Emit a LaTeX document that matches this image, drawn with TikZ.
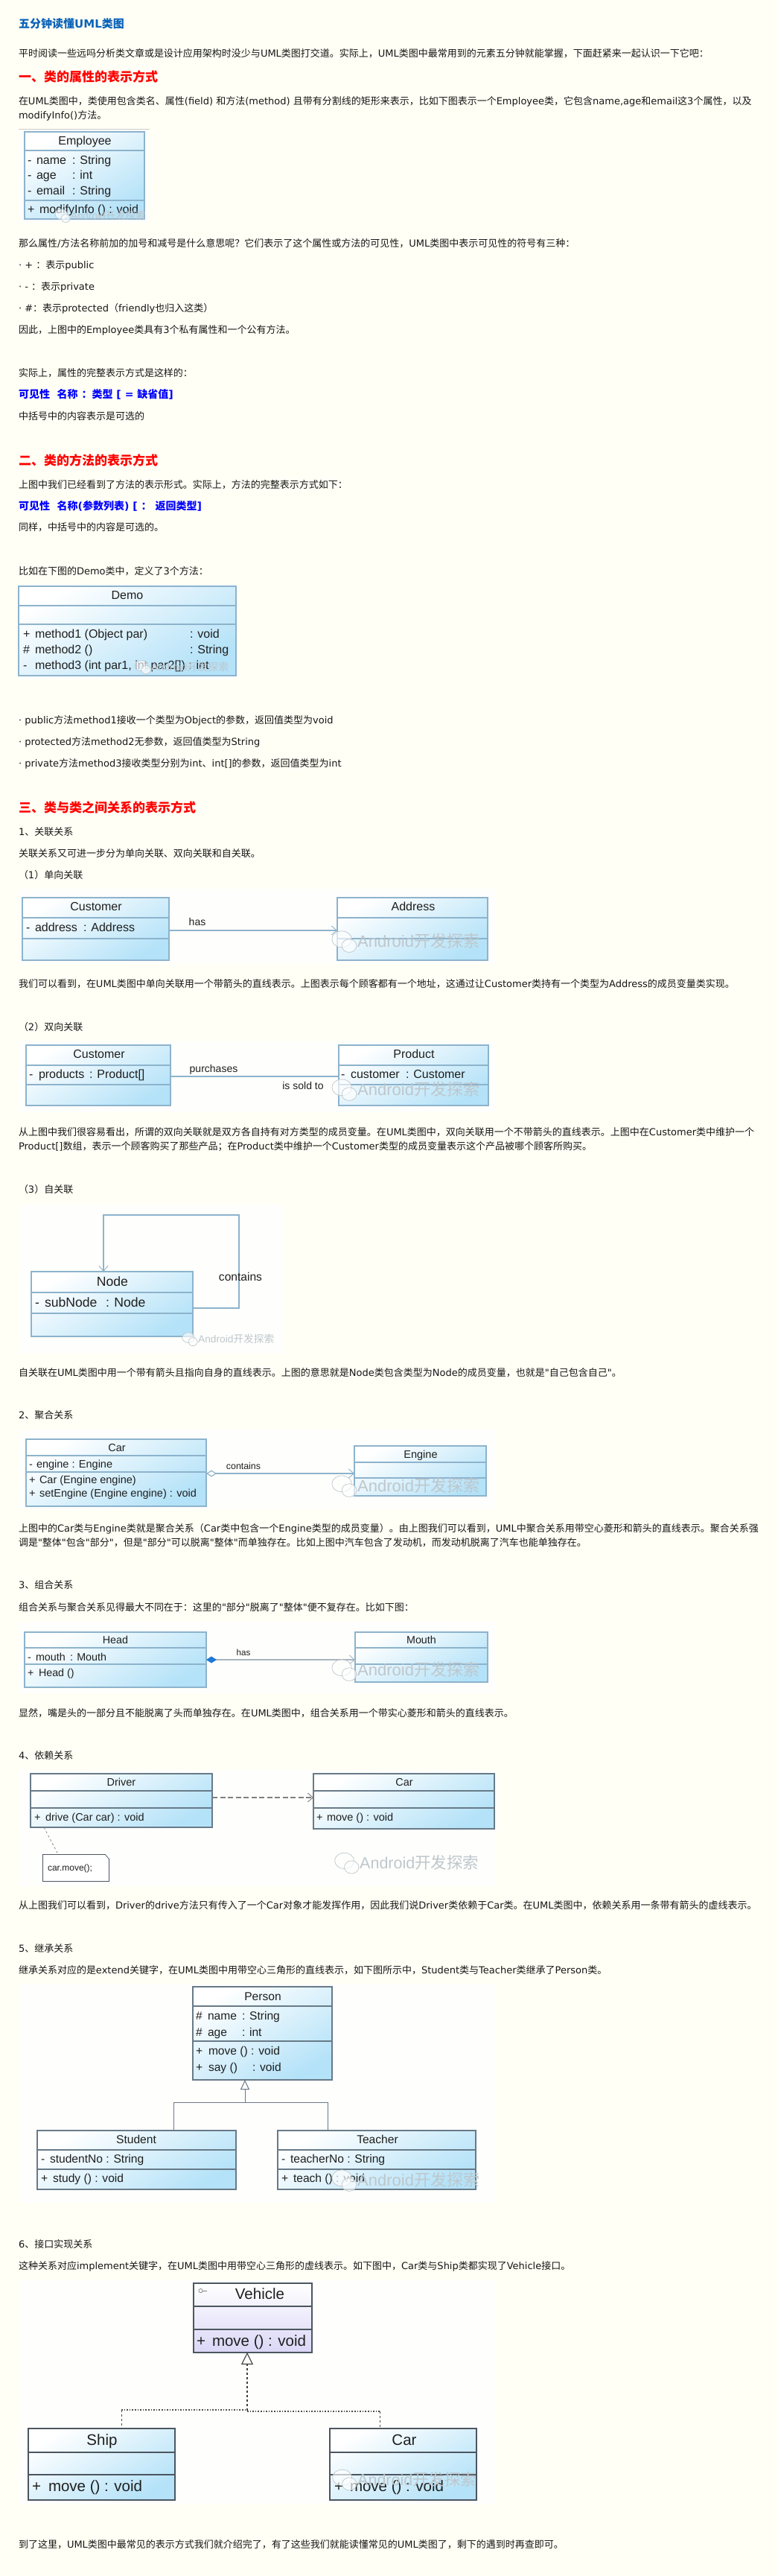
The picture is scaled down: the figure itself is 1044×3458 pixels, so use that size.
\documentclass[tikz,border=0pt]{standalone}
\usepackage{fontspec}
\setmainfont{Noto Sans CJK SC}
\newfontfamily\latf{DejaVu Sans}
\newfontfamily\umlf{Liberation Sans}
\usetikzlibrary{arrows.meta}
\definecolor{pagebg}{HTML}{FFFFF5}
\definecolor{imgbg}{HTML}{FEFEFC}
\definecolor{bodyc}{HTML}{161616}
\definecolor{titlec}{HTML}{0A62B8}
\definecolor{skyb}{HTML}{B4E2F8}
\definecolor{bline}{HTML}{8DB3CC}
\definecolor{gline}{HTML}{687A88}
\definecolor{dline}{HTML}{4C5660}
\definecolor{wmc}{HTML}{BEC7CC}
\definecolor{violetb}{HTML}{DAD6F6}
\definecolor{diamc}{HTML}{1E78D8}
\definecolor{hline}{HTML}{A9B4C0}
\newcommand\lat[1]{{\latf #1}}
\newcount\tcnt
\newcommand\fs[1]{\fontsize{#1}{#1}\selectfont}
% body lines
\newcommand\BLx[3]{\global\advance\tcnt by 1 \node[bodytxt] (t\the\tcnt) at (#1,#2) {#3};}
\newcommand\BL[2]{\BLx{25}{#1}{#2}}
\newcommand\HD[2]{\global\advance\tcnt by 1 \node[headtxt] (t\the\tcnt) at (25,#1) {#2};}
\newcommand\BU[2]{\global\advance\tcnt by 1 \node[bluetxt] (t\the\tcnt) at (25,#1) {#2};}
% class text
\def\csz{16}
\newcommand\Tx[3]{\global\advance\tcnt by 1 \node[umltxt,anchor=base west,yshift={-0.36*\csz*1pt},font=\umlf\fs{\csz}] (t\the\tcnt) at (#1,#2) {#3};}
\newcommand\Tc[3]{\global\advance\tcnt by 1 \node[umltxt,anchor=base,yshift={-0.36*\csz*1pt},font=\umlf\fs{\csz}] (t\the\tcnt) at (#1,#2) {#3};}
% class box
\newcommand\cbox[7][bluebox]{%
 \node[#1,minimum width={(#5-#3)*1pt},minimum height={(#6-#4)*1pt}] (#2) at ({(#3+#5)/2},{(#4+#6)/2}) {};
 \coordinate (#2s1) at (#3,#7);}
\newcommand\csep[3][bline]{\draw[draw=#1,line width=1.2pt] (#2.west |- 0,#3) -- (#2.east |- 0,#3);}
% image area
\newcommand\imgarea[5]{\node[fill=imgbg,inner sep=0,outer sep=0,minimum width={(#4-#2)*1pt},minimum height={(#5-#3)*1pt}] (#1) at ({(#2+#4)/2},{(#3+#5)/2}) {};}
% watermark: x of text start, y centre, size
\newcommand\wm[3]{%
 \global\advance\tcnt by 1
 \draw[wmc,fill=white,fill opacity=.65,line width=.7pt] ({#1-0.95*#3},{#2-0.1*#3}) ellipse ({0.6*#3} and {0.5*#3});
 \draw[wmc,fill=white,fill opacity=.65,line width=.7pt] ({#1-0.5*#3},{#2+0.3*#3}) ellipse ({0.45*#3} and {0.4*#3});
 \node[anchor=west,inner sep=0,text=wmc,font=\fs{#3}] (t\the\tcnt) at (#1,#2) {{\umlf Android}开发探索};}
\tikzset{
 x=1pt,y=-1pt,
 bodytxt/.style={anchor=base west,inner sep=0,outer sep=0,yshift=-5pt,text=bodyc,font=\fs{13}},
 headtxt/.style={anchor=base west,inner sep=0,outer sep=0,yshift=-6.5pt,text=red,font=\fs{17}\bfseries},
 bluetxt/.style={anchor=base west,inner sep=0,outer sep=0,yshift=-5pt,text=blue,font=\fs{14}\bfseries},
 umltxt/.style={inner sep=0,outer sep=0,text=black!88},
 bluebox/.style={rectangle,draw=bline,line width=1.2pt,top color=white,bottom color=skyb,shading angle=30,inner sep=0,outer sep=0},
 greybox/.style={bluebox,draw=gline},
 darkbox/.style={bluebox,draw=dline,line width=1.4pt},
 violetbox/.style={darkbox,bottom color=violetb},
 assoc/.style={draw=bline,line width=1.2pt},
 opentip/.style={-{Straight Barb[length=7pt,width=12pt,line width=.9pt]}},
}
\begin{document}
\begin{tikzpicture}
\useasboundingbox (0,0) rectangle (1044,3458);
\fill[pagebg] (0,0) rectangle (1044,3458);
% -------- top text
\global\advance\tcnt by 1
\node[anchor=base west,inner sep=0,yshift=-5.5pt,text=titlec,font=\fs{15}\bfseries] (title) at (25,32) {五分钟读懂\lat{UML}类图};
\BL{72}{平时阅读一些远吗分析类文章或是设计应用架构时没少与\lat{UML}类图打交道。实际上，\lat{UML}类图中最常用到的元素五分钟就能掌握，下面赶紧来一起认识一下它吧：}
\HD{103}{一、类的属性的表示方式}
\BL{135}{在\lat{UML}类图中，类使用包含类名、属性\lat{(field) }和方法\lat{(method) }且带有分割线的矩形来表示，比如下图表示一个\lat{Employee}类，它包含\lat{name,age}和\lat{email}这\lat{3}个属性，以及}
\BL{154}{\lat{modifyInfo()}方法。}
% Employee
\imgarea{imgA}{25}{173}{201}{299}
\draw[gray!40,line width=.8pt] (imgA.north west) -- (imgA.north east);
\cbox{employee}{33}{177}{194}{294}{202}
\csep{employee}{202}\csep{employee}{269}
\def\csz{16}
\Tc{114}{189}{Employee}
\Tx{37}{215}{-}\Tx{49}{215}{name}\Tx{97}{215}{: String}
\Tx{37}{235}{-}\Tx{49}{235}{age}\Tx{97}{235}{: int}
\Tx{37}{256}{-}\Tx{49}{256}{email}\Tx{97}{256}{: String}
\Tx{37}{281}{+}\Tx{53}{281}{modifyInfo () : void}
\wm{95}{289}{13.5}
% -------- second block
\BL{326}{那么属性\lat{/}方法名称前加的加号和减号是什么意思呢？它们表示了这个属性或方法的可见性，\lat{UML}类图中表示可见性的符号有三种：}
\BL{355}{\lat{· + }：表示\lat{public}}
\BL{384}{\lat{· - }：表示\lat{private}}
\BL{413}{\lat{· \#}：表示\lat{protected}（\lat{friendly}也归入这类）}
\BL{442}{因此，上图中的\lat{Employee}类具有\lat{3}个私有属性和一个公有方法。}
\BL{500}{实际上，属性的完整表示方式是这样的：}
\BU{529}{可见性\lat{\ \ }名称\lat{ }：类型\lat{ [ = }缺省值\lat{]}}
\BL{558}{中括号中的内容表示是可选的}
\HD{618}{二、类的方法的表示方式}
\BL{650}{上图中我们已经看到了方法的表示形式。实际上，方法的完整表示方式如下：}
\BU{679}{可见性\lat{\ \ }名称\lat{(}参数列表\lat{) [ }：\lat{ }返回类型\lat{]}}
\BL{707}{同样，中括号中的内容是可选的。}
\BL{766}{比如在下图的\lat{Demo}类中，定义了\lat{3}个方法：}
% Demo
\imgarea{imgB}{25}{785}{317}{912}
\cbox{demo}{25}{787}{317}{907}{813}
\csep{demo}{813}\csep{demo}{838}
\def\csz{16}
\Tc{171}{799}{Demo}
\Tx{31}{851}{+}\Tx{47}{851}{method1 (Object par)}\Tx{255}{851}{: void}
\Tx{31}{872}{\#}\Tx{47}{872}{method2 ()}\Tx{255}{872}{: String}
\Tx{31}{893}{-}\Tx{47}{893}{method3 (int par1, int par2[]) : int}
\wm{203}{895}{14}
% -------- third block
\BL{966}{\lat{· public}方法\lat{method1}接收一个类型为\lat{Object}的参数，返回值类型为\lat{void}}
\BL{995}{\lat{· protected}方法\lat{method2}无参数，返回值类型为\lat{String}}
\BL{1024}{\lat{· private}方法\lat{method3}接收类型分别为\lat{int}、\lat{int[]}的参数，返回值类型为\lat{int}}
\HD{1084}{三、类与类之间关系的表示方式}
\BL{1116}{\lat{1}、关联关系}
\BL{1145}{关联关系又可进一步分为单向关联、双向关联和自关联。}
\BL{1174}{（\lat{1}）单向关联}
% Customer -> Address
\imgarea{imgC}{25}{1193}{667}{1294}
\cbox{cust}{30}{1205}{227}{1289}{1232}
\csep{cust}{1232}\csep{cust}{1260}
\cbox{addr}{453}{1205}{655}{1289}{1232}
\csep{addr}{1232}\csep{addr}{1260}
\def\csz{16}
\Tc{129}{1217}{Customer}\Tc{555}{1217}{Address}
\Tx{35}{1245}{-}\Tx{47}{1245}{address}\Tx{112}{1245}{: Address}
\draw[assoc,opentip] (cust.east |- 0,1249) -- (addr.west |- 0,1249);
\def\csz{14}
\Tc{265}{1237}{has}
\wm{480}{1263}{22}
\BL{1320}{我们可以看到，在\lat{UML}类图中单向关联用一个带箭头的直线表示。上图表示每个顾客都有一个地址，这通过让\lat{Customer}类持有一个类型为\lat{Address}的成员变量类实现。}
\BL{1378}{（\lat{2}）双向关联}
% Customer -- Product
\imgarea{imgD}{25}{1398}{667}{1493}
\cbox{custb}{35}{1403}{229}{1484}{1430}
\csep{custb}{1430}\csep{custb}{1456}
\cbox{prod}{455}{1403}{656}{1484}{1430}
\csep{prod}{1430}\csep{prod}{1456}
\def\csz{16}
\Tc{133}{1415}{Customer}\Tc{556}{1415}{Product}
\Tx{39}{1442}{-}\Tx{52}{1442}{products}\Tx{120}{1442}{: Product[]}
\Tx{458}{1442}{-}\Tx{471}{1442}{customer}\Tx{545}{1442}{: Customer}
\draw[assoc] (custb.east |- 0,1445) -- (prod.west |- 0,1445);
\def\csz{14}
\Tc{287}{1434}{purchases}\Tc{407}{1457}{is sold to}
\wm{480}{1462}{22}
\BL{1519}{从上图中我们很容易看出，所谓的双向关联就是双方各自持有对方类型的成员变量。在\lat{UML}类图中，双向关联用一个不带箭头的直线表示。上图中在\lat{Customer}类中维护一个}
\BL{1538}{\lat{Product[]}数组，表示一个顾客购买了那些产品；在\lat{Product}类中维护一个\lat{Customer}类型的成员变量表示这个产品被哪个顾客所购买。}
\BL{1596}{（\lat{3}）自关联}
% Node
\imgarea{imgE}{25}{1616}{381}{1817}
\cbox{nodeb}{42}{1707}{259}{1794}{1735}
\csep{nodeb}{1735}\csep{nodeb}{1763}
\coordinate (loopA) at (321,1631);
\coordinate (loopB) at (139,1631);
\draw[assoc,opentip] (nodeb.east |- 0,1756) -| (loopA) -- (loopB) -- (nodeb.north -| loopB);
\def\csz{17.6}
\Tc{151}{1720}{Node}
\Tx{47}{1748}{-}\Tx{60}{1748}{subNode}\Tx{142}{1748}{: Node}
\def\csz{15.6}
\Tc{323}{1714}{contains}
\wm{266}{1797}{13.7}
\BL{1842}{自关联在\lat{UML}类图中用一个带有箭头且指向自身的直线表示。上图的意思就是\lat{Node}类包含类型为\lat{Node}的成员变量，也就是\lat{"}自己包含自己\lat{"}。}
\BL{1899}{\lat{2}、聚合关系}
% Car / Engine
\imgarea{imgF}{25}{1919}{667}{2026}
\cbox{carA}{35}{1932}{277}{2022}{1954}
\csep{carA}{1954}\csep{carA}{1976}
\cbox{engine}{476}{1941}{653}{2008}{1963}
\csep{engine}{1963}\csep{engine}{1984}
\def\csz{14.5}
\Tc{157}{1943}{Car}\Tc{565}{1952}{Engine}
\Tx{39}{1965}{-}\Tx{49}{1965}{engine : Engine}
\Tx{39}{1986}{+}\Tx{53}{1986}{Car (Engine engine)}
\Tx{39}{2004}{+}\Tx{53}{2004}{setEngine (Engine engine) : void}
\draw[assoc,{Diamond[open,fill=white,length=14pt,width=9pt]}-{Straight Barb[length=7pt,width=12pt,line width=.9pt]}] (carA.east |- 0,1978) -- (engine.west |- 0,1978);
\def\csz{12.4}
\Tc{327}{1968}{contains}
\wm{480}{1994}{22}
\BL{2051}{上图中的\lat{Car}类与\lat{Engine}类就是聚合关系（\lat{Car}类中包含一个\lat{Engine}类型的成员变量）。由上图我们可以看到，\lat{UML}中聚合关系用带空心菱形和箭头的直线表示。聚合关系强}
\BL{2070}{调是\lat{"}整体\lat{"}包含\lat{"}部分\lat{"}，但是\lat{"}部分\lat{"}可以脱离\lat{"}整体\lat{"}而单独存在。比如上图中汽车包含了发动机，而发动机脱离了汽车也能单独存在。}
\BL{2127}{\lat{3}、组合关系}
\BL{2157}{组合关系与聚合关系见得最大不同在于：这里的\lat{"}部分\lat{"}脱离了\lat{"}整体\lat{"}便不复存在。比如下图：}
% Head / Mouth
\imgarea{imgG}{25}{2177}{667}{2273}
\cbox{head}{33}{2191}{277}{2265}{2212}
\csep{head}{2212}\csep{head}{2234}
\cbox{mouth}{477}{2191}{655}{2258}{2212}
\csep{mouth}{2212}\csep{mouth}{2234}
\def\csz{14.3}
\Tc{155}{2201}{Head}\Tc{566}{2201}{Mouth}
\Tx{37}{2224}{-}\Tx{48}{2224}{mouth}\Tx{94}{2224}{: Mouth}
\Tx{37}{2245}{+}\Tx{52}{2245}{Head ()}
\draw[draw=hline,line width=1.2pt,{Diamond[color=diamc,length=14pt,width=9pt]}-{Straight Barb[length=7pt,width=12pt,line width=.9pt]}] (head.east |- 0,2228) -- (mouth.west |- 0,2228);
\def\csz{11.6}
\Tc{327}{2218}{has}
\wm{480}{2241}{22}
\BL{2299}{显然，嘴是头的一部分且不能脱离了头而单独存在。在\lat{UML}类图中，组合关系用一个带实心菱形和箭头的直线表示。}
\BL{2356}{\lat{4}、依赖关系}
% Driver / Car
\imgarea{imgH}{25}{2376}{667}{2532}
\cbox[greybox]{driver}{41}{2381}{285}{2453}{2404}
\csep[gline]{driver}{2404}\csep[gline]{driver}{2427}
\cbox[greybox]{carB}{421}{2381}{664}{2455}{2404}
\csep[gline]{carB}{2404}\csep[gline]{carB}{2427}
\def\csz{14.5}
\Tc{163}{2392}{Driver}\Tc{543}{2392}{Car}
\Tx{46}{2439}{+}\Tx{61}{2439}{drive (Car car) : void}
\Tx{425}{2439}{+}\Tx{439}{2439}{move () : void}
\draw[draw=gray,line width=1.3pt,dash pattern=on 7pt off 3.5pt,opentip] (driver.east |- 0,2413) -- (carB.west |- 0,2413);
\node[draw=dline,fill=white,line width=.8pt,inner sep=0,minimum width=89pt,minimum height=36pt] (note) at (101.5,2507) {};
\fill[white] (141,2489) -- (146.8,2489) -- (146.8,2495) -- cycle;
\draw[dline,line width=.7pt] (141,2489) -- (146,2495);
\coordinate (noteA) at (59,2453);
\coordinate (noteB) at (78,2489);
\draw[gray,line width=.7pt,dashed] (noteA) -- (noteB);
\def\csz{12}
\Tx{64}{2507}{car.move();}
\wm{483}{2500}{21.5}
\BL{2557}{从上图我们可以看到，\lat{Driver}的\lat{drive}方法只有传入了一个\lat{Car}对象才能发挥作用，因此我们说\lat{Driver}类依赖于\lat{Car}类。在\lat{UML}类图中，依赖关系用一条带有箭头的虚线表示。}
\BL{2615}{\lat{5}、继承关系}
\BL{2644}{继承关系对应的是\lat{extend}关键字，在\lat{UML}类图中用带空心三角形的直线表示，如下图所示中，\lat{Student}类与\lat{Teacher}类继承了\lat{Person}类。}
% Person
\imgarea{imgI}{25}{2663}{667}{2957}
\cbox[greybox]{person}{259}{2667}{446}{2792}{2693}
\csep[gline]{person}{2693}\csep[gline]{person}{2740}
\cbox[greybox]{student}{50}{2860}{317}{2939}{2886}
\csep[gline]{student}{2886}\csep[gline]{student}{2912}
\cbox[greybox]{teacher}{373}{2860}{639}{2939}{2886}
\csep[gline]{teacher}{2886}\csep[gline]{teacher}{2912}
\coordinate (hJ) at (329,2822);
\coordinate (hL) at (233,2822);
\coordinate (hR) at (440,2822);
\draw[gline,line width=1pt] (student.north -| hL) -- (hL) -- (hR) -- (teacher.north -| hR);
\draw[gline,line width=1pt,-{Triangle[open,fill=white,length=13pt,width=12pt]}] (hJ) -- (person.south -| hJ);
\def\csz{15.6}
\Tc{353}{2680}{Person}
\Tx{263}{2706}{\#}\Tx{279}{2706}{name}\Tx{325}{2706}{: String}
\Tx{263}{2728}{\#}\Tx{279}{2728}{age}\Tx{325}{2728}{: int}
\Tx{263}{2753}{+}\Tx{280}{2753}{move () : void}
\Tx{263}{2775}{+}\Tx{280}{2775}{say ()}\Tx{339}{2775}{: void}
\Tc{183}{2872}{Student}\Tc{507}{2872}{Teacher}
\Tx{55}{2898}{-}\Tx{67}{2898}{studentNo : String}
\Tx{55}{2924}{+}\Tx{71}{2924}{study () : void}
\Tx{378}{2898}{-}\Tx{390}{2898}{teacherNo : String}
\Tx{378}{2924}{+}\Tx{394}{2924}{teach () : void}
\wm{480}{2926}{22}
\BL{3012}{\lat{6}、接口实现关系}
\BL{3041}{这种关系对应\lat{implement}关键字，在\lat{UML}类图中用带空心三角形的虚线表示。如下图中，\lat{Car}类与\lat{Ship}类都实现了\lat{Vehicle}接口。}
% Vehicle
\imgarea{imgJ}{25}{3060}{665}{3361}
\cbox[violetbox]{vehicle}{260}{3065}{419}{3158}{3096}
\csep[dline]{vehicle}{3096}\csep[dline]{vehicle}{3127}
\cbox[darkbox]{ship}{38}{3260}{235}{3356}{3292}
\csep[dline]{ship}{3292}\csep[dline]{ship}{3322}
\cbox[darkbox]{carC}{443}{3260}{640}{3356}{3292}
\csep[dline]{carC}{3292}\csep[dline]{carC}{3322}
\coordinate (iJ) at (332,3236);
\coordinate (iL) at (163,3235);
\coordinate (iR) at (510,3237);
\draw[black!75,line width=1.1pt,dashed,-{Triangle[open,fill=white,length=16pt,width=16pt]}] (iJ) -- (vehicle.south -| iJ);
\draw[black!70,line width=1.6pt,dotted] (iL) -- (iJ |- iL);
\draw[black!70,line width=1.6pt,dotted] (iJ |- iR) -- (iR);
\draw[black!70,line width=.9pt,dashed] (iL) -- (ship.north -| iL);
\draw[black!70,line width=.9pt,dashed] (iR) -- (carC.north -| iR);
\coordinate (ifc) at (269.5,3075);
\draw[gray,line width=.7pt] (ifc) circle (2.6);
\draw[gray,line width=.7pt] (ifc) ++(2.6,0) -- ++(6,0);
\def\csz{20.5}
\Tc{349}{3079}{Vehicle}\Tc{137}{3275}{Ship}\Tc{543}{3275}{Car}
\Tx{264}{3142}{+}\Tx{285}{3142}{move () : void}
\Tx{43}{3337}{+}\Tx{65}{3337}{move () : void}
\Tx{449}{3337}{+}\Tx{470}{3337}{move () : void}
\wm{480}{3328}{21.5}
\BL{3415}{到了这里，\lat{UML}类图中最常见的表示方式我们就介绍完了，有了这些我们就能读懂常见的\lat{UML}类图了，剩下的遇到时再查即可。}
\end{tikzpicture}
\end{document}
